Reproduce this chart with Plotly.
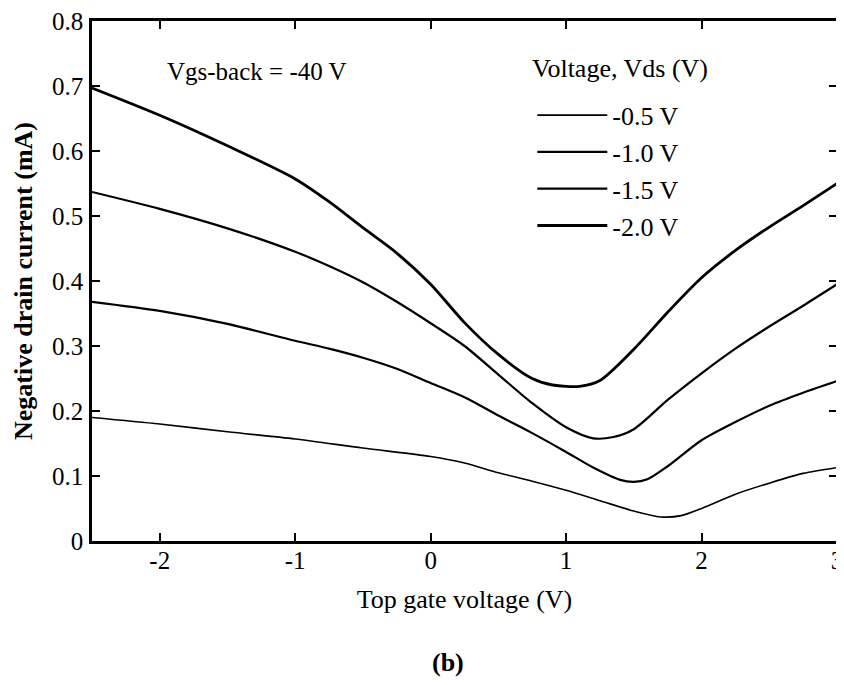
import plotly.graph_objects as go

# Data
x_m20 = [-2.5, -2.0, -1.5, -1.0, -0.75, -0.5, -0.25, 0.0, 0.25, 0.5, 0.75, 0.9, 1.1, 1.25, 1.5, 1.75, 2.0, 2.25, 2.5, 2.75, 3.0]
y_m20 = [0.697, 0.655, 0.608, 0.557, 0.522, 0.482, 0.443, 0.395, 0.336, 0.287, 0.250, 0.240, 0.238, 0.247, 0.295, 0.352, 0.405, 0.447, 0.483, 0.516, 0.550]

x_m15 = [-2.5, -2.0, -1.5, -1.0, -0.75, -0.5, -0.25, 0.0, 0.25, 0.5, 0.75, 1.0, 1.2, 1.35, 1.5, 1.75, 2.0, 2.25, 2.5, 2.75, 3.0]
y_m15 = [0.537, 0.511, 0.481, 0.445, 0.423, 0.398, 0.368, 0.335, 0.300, 0.256, 0.212, 0.175, 0.158, 0.160, 0.172, 0.217, 0.258, 0.296, 0.330, 0.362, 0.395]

x_m10 = [-2.5, -2.0, -1.5, -1.0, -0.75, -0.5, -0.25, 0.0, 0.25, 0.5, 0.75, 1.0, 1.2, 1.4, 1.5, 1.6, 1.75, 2.0, 2.25, 2.5, 2.75, 3.0]
y_m10 = [0.368, 0.354, 0.334, 0.308, 0.296, 0.282, 0.265, 0.243, 0.221, 0.193, 0.166, 0.137, 0.113, 0.094, 0.091, 0.095, 0.115, 0.155, 0.183, 0.208, 0.228, 0.246]

x_m05 = [-2.5, -2.0, -1.5, -1.0, -0.5, 0.0, 0.25, 0.5, 0.75, 1.0, 1.25, 1.5, 1.7, 1.85, 2.0, 2.25, 2.5, 2.75, 3.0]
y_m05 = [0.190, 0.180, 0.168, 0.157, 0.143, 0.130, 0.120, 0.105, 0.092, 0.078, 0.062, 0.046, 0.037, 0.039, 0.050, 0.072, 0.089, 0.104, 0.113]

series_names = ["-0.5 V", "-1.0 V", "-1.5 V", "-2.0 V"]
xs = [x_m05, x_m10, x_m15, x_m20]
ys = [y_m05, y_m10, y_m15, y_m20]
widths = [1.6, 2.2, 2.2, 2.8]

x_ticks = [-2, -1, 0, 1, 2, 3]
y_ticks = [0, 0.1, 0.2, 0.3, 0.4, 0.5, 0.6, 0.7, 0.8]
y_ticktext = ["0", "0.1", "0.2", "0.3", "0.4", "0.5", "0.6", "0.7", "0.8"]

FONT = "Liberation Serif"
TICK_SIZE = 25
TEXT_SIZE = 26

fig = go.Figure()
for name, xv, yv, w in zip(series_names, xs, ys, widths):
    fig.add_trace(go.Scatter(
        x=xv, y=yv, mode="lines", name=name,
        line=dict(color="black", width=w, shape="spline", smoothing=0.8),
        legendgroup=name,
    ))

axis_common = dict(
    showline=True, linecolor="black", linewidth=2.5, mirror="ticks",
    ticks="inside", ticklen=8, tickwidth=2, tickcolor="black",
    showgrid=False, zeroline=False, automargin=False,
    ticklabeloverflow="allow",
    tickfont=dict(family=FONT, size=TICK_SIZE, color="black"),
)

# The page body has an 8px default margin, so the figure is drawn 8px in and kept smaller
fig.update_layout(
    width=836, height=669,
    margin=dict(l=84, r=7, t=13, b=136),
    paper_bgcolor="white", plot_bgcolor="white",
    font=dict(family=FONT, color="black"),
    xaxis=dict(range=[-2.5, 3], tickvals=x_ticks, ticktext=[str(v) for v in x_ticks],
               title=dict(text="Top gate voltage (V)", font=dict(family=FONT, size=TEXT_SIZE), standoff=18),
               ticklabelstandoff=-5,
               **axis_common),
    yaxis=dict(range=[0, 0.8], tickvals=y_ticks, ticktext=y_ticktext,
               title=dict(text="<b>Negative drain current (mA)</b>", font=dict(family=FONT, size=TEXT_SIZE), standoff=12),
               ticklabelstandoff=1,
               **axis_common),
    legend=dict(
        x=0.591, y=0.864, xanchor="left", yanchor="top",
        bgcolor="rgba(0,0,0,0)", borderwidth=0,
        font=dict(family=FONT, size=TEXT_SIZE, color="black"),
        traceorder="grouped", tracegroupgap=0, itemwidth=70,
    ),
    showlegend=True,
)

fig.add_annotation(text="Voltage, Vds (V)", x=0.588, y=0.9096, xref="paper", yref="paper",
                   xanchor="left", yanchor="middle", showarrow=False,
                   font=dict(family=FONT, size=TEXT_SIZE, color="black"))
fig.add_annotation(text="Vgs-back = -40 V", x=0.098, y=0.902, xref="paper", yref="paper",
                   xanchor="left", yanchor="middle", showarrow=False,
                   font=dict(family=FONT, size=25, color="black"))
fig.add_annotation(text="<b>(b)</b>", x=0.478, y=-0.2346, xref="paper", yref="paper",
                   xanchor="center", yanchor="middle", showarrow=False,
                   font=dict(family=FONT, size=TEXT_SIZE, color="black"))

fig.write_html("out.html")
